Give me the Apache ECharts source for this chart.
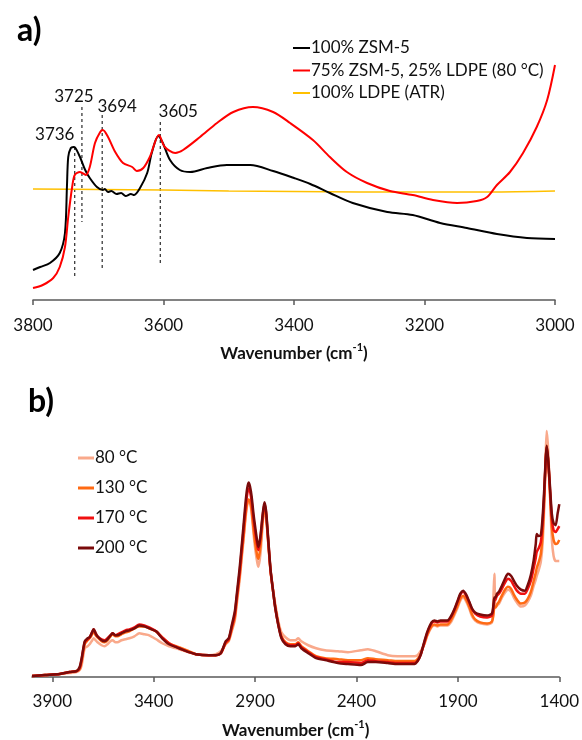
<!DOCTYPE html>
<html>
<head>
<meta charset="utf-8">
<script src="https://cdn.jsdelivr.net/npm/echarts@6/dist/echarts.min.js"></script>
<style>html,body{margin:0;padding:0;background:#fff;}#c{width:582px;height:740px;}</style>
</head>
<body>
<div id="c"></div>
<script>
// ---------- Panel a) ----------
const xTicksA = [3800, 3600, 3400, 3200, 3000];
const wnZsm = [3800,3789,3774,3759,3751,3748,3746,3742,3738,3735,3728,3720,3713,3702,3693,3690,3685,3680,3672,3665,3658,3650,3645,3636,3625,3618,3608,3601,3590,3575,3559,3533,3503,3467,3432,3400,3375,3345,3310,3257,3218,3176,3135,3089,3043,3000];
const absZsm = [30,33,37,47,67,113,143,152,153,152,143,130,122,113,110,111,108,109,106,107,104,106,105,112,127,147,164,157,140,130,128,132,135,135,129,122,116,107,97,88,85,77,72,66,62,61];
const wnMix = [3800,3785,3769,3759,3751,3746,3740,3736,3728,3719,3713,3705,3697,3693,3685,3674,3662,3648,3641,3631,3621,3607,3598,3582,3570,3544,3518,3493,3463,3432,3406,3371,3345,3319,3288,3253,3218,3187,3150,3120,3104,3089,3069,3049,3028,3012,3000];
const absMix = [12,15,22,33,53,83,113,125,128,125,133,157,168,170,163,148,137,133,129,132,143,165,153,147,150,163,177,188,193,188,177,160,143,128,117,109,105,100,97,99,103,115,128,147,173,200,235];
const wnLdpe = [3800,3700,3600,3500,3400,3300,3200,3100,3000];
const absLdpe = [111,110.5,110,109,108.5,108,108,108,109];
const peakWn = [3736, 3725, 3694, 3605];
const peakTop = [153, 193, 185, 178];
const peakBottom = [22, 78, 32, 35];
const peakLabelOffset = [[-20,-2],[-8,0],[15,2],[18,0]];

// ---------- Panel b) ----------
const xTicksB = [1400, 1900, 2400, 2900, 3400, 3900];
const wnB = [4000,3936,3863,3814,3780,3765,3755,3740,3726,3716,3706,3696,3686,3677,3657,3642,3628,3613,3603,3588,3579,3559,3539,3520,3495,3471,3446,3422,3388,3358,3324,3275,3226,3192,3128,3094,3069,3045,3030,3015,3000,2991,2976,2966,2956,2947,2939,2932,2925,2917,2907,2898,2888,2883,2873,2863,2854,2846,2839,2824,2809,2800,2785,2770,2750,2726,2702,2687,2672,2638,2599,2555,2491,2442,2378,2344,2305,2246,2197,2148,2114,2099,2084,2065,2050,2030,2016,2001,1986,1952,1932,1918,1903,1888,1874,1859,1844,1830,1815,1790,1756,1732,1725,1720,1715,1707,1697,1683,1668,1653,1638,1624,1609,1589,1570,1555,1540,1526,1516,1511,1501,1491,1482,1474,1467,1462,1455,1447,1437,1428,1418,1408,1400];
const abs200 = [1,2,3,5,6,10,19,36,39,40,44,48,44,41,37,36,38,42,44,42,42,44,46,47,49,52,51,49,46,39,33,29,25,23,22,22,24,36,39,52,66,82,110,132,155,176,190,196,192,182,163,149,135,131,143,163,176,168,150,109,83,69,52,39,33,31,31,33,29,24,19,17,14,13,12,15,15,14,13,13,13,16,22,36,46,55,57,56,57,57,62,68,76,84,87,83,76,69,65,63,62,64,72,80,80,84,86,92,99,104,102,97,92,88,87,93,103,118,134,144,142,143,162,190,220,233,220,196,165,155,153,165,174];
const abs170 = [1,2,3,5,6,9,18,35,38,40,44,48,44,41,38,37,39,42,44,42,43,45,47,48,50,53,52,50,46,40,34,29,25,23,22,22,24,35,38,50,63,79,106,128,150,170,184,190,187,177,158,144,131,128,141,161,174,166,148,108,83,69,52,40,34,32,32,34,30,25,20,18,15,15,14,17,16,15,14,14,14,16,22,35,45,54,56,55,56,56,61,67,75,83,86,82,75,68,64,61,60,62,70,77,78,82,84,89,95,99,97,92,87,84,84,89,97,110,120,126,130,136,155,185,218,232,218,193,160,148,146,149,152];
const abs130 = [1,2,3,5,6,8,16,33,37,39,42,46,42,40,36,35,37,41,43,41,41,43,45,46,49,51,51,49,46,40,34,30,26,23,22,22,24,34,37,48,60,76,102,123,143,163,175,179,177,168,148,133,121,119,133,157,172,163,146,107,83,70,53,41,35,33,33,35,31,26,21,19,18,17,17,19,18,17,16,16,16,18,23,34,43,51,53,52,53,53,58,64,71,79,82,78,71,63,58,55,54,56,62,70,70,73,76,82,88,91,89,83,78,74,75,79,86,97,105,110,116,124,145,180,218,233,218,190,152,138,134,135,138];
const abs80 = [1,2,3,4,5,7,12,29,31,33,36,39,37,35,32,31,33,36,37,35,35,37,38,39,41,44,43,42,38,34,31,28,25,23,22,23,26,33,36,46,57,72,98,119,140,160,173,178,176,165,143,127,114,111,125,152,170,161,145,108,85,73,56,45,40,37,37,39,36,32,29,27,26,25,27,28,26,22,21,21,21,22,26,33,42,50,52,51,52,52,56,62,69,77,80,76,69,61,57,54,53,55,80,104,70,72,74,80,85,88,86,80,75,71,72,76,82,92,98,102,108,116,135,172,225,248,230,190,140,122,117,117,117];

const FONT = 'Lato';
const toPairs = (xs, ys) => xs.map((x, i) => [x, ys[i]]);

const chart = echarts.init(document.getElementById('c'), null, {renderer: 'canvas'});

const peakSeries = peakWn.map((w, i) => ({
  type: 'line', xAxisIndex: 0, yAxisIndex: 0, symbol: 'circle', symbolSize: 0.1, showSymbol: true, silent: true,
  lineStyle: {color: '#000', width: 1, type: [3, 3]},
  itemStyle: {color: 'rgba(0,0,0,0)'},
  data: [
    {value: [w, peakTop[i]], label: {show: true, formatter: String(w), position: 'top', distance: 2,
      offset: peakLabelOffset[i], fontFamily: FONT, fontSize: 17, color: '#111'}},
    {value: [w, peakBottom[i]]}
  ],
  z: 1
}));

const axisName = {
  rich: {
    a: {fontFamily: FONT, fontSize: 17, fontWeight: 'bold', color: '#111', lineHeight: 20, verticalAlign: 'bottom'},
    s: {fontFamily: FONT, fontSize: 11, fontWeight: 'bold', color: '#111', lineHeight: 20, verticalAlign: 'top', padding: [0, 0, 6, 0]}
  }
};
const plainNum = v => String(v);

const option = {
  animation: false,
  backgroundColor: '#fff',
  title: [
    {text: 'a)', left: 12, top: 10, textStyle: {fontFamily: FONT, fontSize: 32, fontWeight: 'bold', color: '#000'}},
    {text: 'b)', left: 23, top: 381, textStyle: {fontFamily: FONT, fontSize: 32, fontWeight: 'bold', color: '#000'}}
  ],
  legend: [
    {
      orient: 'vertical', left: 288, top: 33, itemWidth: 17, itemHeight: 2, itemGap: 2.5, icon: 'rect',
      data: ['100% ZSM-5', '75% ZSM-5, 25% LDPE (80 °C)', '100% LDPE (ATR)'],
      textStyle: {fontFamily: FONT, fontSize: 17, color: '#111', lineHeight: 20, padding: [0, 0, 0, -4]},
      selectedMode: false
    },
    {
      orient: 'vertical', left: 73, top: 443, itemWidth: 16, itemHeight: 3, itemGap: 10, icon: 'rect',
      data: ['80 °C', '130 °C', '170 °C', '200 °C'],
      textStyle: {fontFamily: FONT, fontSize: 17, color: '#111', lineHeight: 20, padding: [0, 0, 0, -4]},
      selectedMode: false
    }
  ],
  grid: [
    {left: 33, right: 27, top: 60, height: 240},
    {left: 32, right: 19, top: 419, height: 260}
  ],
  xAxis: [
    {
      gridIndex: 0, type: 'value', min: 3000, max: 3800, interval: 200, inverse: true,
      axisLine: {lineStyle: {color: '#595959', width: 1.5}},
      axisTick: {show: true, length: 5, lineStyle: {color: '#595959', width: 1.5}},
      axisLabel: {margin: 17, fontFamily: FONT, fontSize: 17, color: '#111', formatter: plainNum},
      splitLine: {show: false},
      name: '{a|Wavenumber (cm}{s|-1}{a|)}', nameLocation: 'middle', nameGap: 42,
      nameTextStyle: axisName
    },
    {
      gridIndex: 1, type: 'value', min: 1400, max: 4000, inverse: true,
      axisLine: {lineStyle: {color: '#595959', width: 1.5}},
      axisTick: {show: true, length: 5, customValues: xTicksB, lineStyle: {color: '#595959', width: 1.5}},
      axisLabel: {margin: 16, fontFamily: FONT, fontSize: 17, color: '#111', customValues: xTicksB, formatter: plainNum},
      splitLine: {show: false},
      name: '{a|Wavenumber (cm}{s|-1}{a|)}', nameLocation: 'middle', nameGap: 42,
      nameTextStyle: axisName
    }
  ],
  yAxis: [
    {gridIndex: 0, type: 'value', min: 0, max: 240, show: false},
    {gridIndex: 1, type: 'value', min: 0, max: 260, show: false}
  ],
  series: [
    ...peakSeries,
    {name: '100% LDPE (ATR)', type: 'line', xAxisIndex: 0, yAxisIndex: 0, symbol: 'none', smooth: 0.3,
      lineStyle: {color: '#FFC000', width: 1.5}, itemStyle: {color: '#FFC000'}, data: toPairs(wnLdpe, absLdpe), z: 2},
    {name: '100% ZSM-5', type: 'line', xAxisIndex: 0, yAxisIndex: 0, symbol: 'none', smooth: 0.3,
      lineStyle: {color: '#000', width: 2}, itemStyle: {color: '#000'}, data: toPairs(wnZsm, absZsm), z: 3},
    {name: '75% ZSM-5, 25% LDPE (80 °C)', type: 'line', xAxisIndex: 0, yAxisIndex: 0, symbol: 'none', smooth: 0.3,
      lineStyle: {color: '#FF0000', width: 2}, itemStyle: {color: '#FF0000'}, data: toPairs(wnMix, absMix), z: 4},

    {name: '80 °C', type: 'line', xAxisIndex: 1, yAxisIndex: 1, symbol: 'none', smooth: 0.25,
      lineStyle: {color: '#F9A98B', width: 2.5}, itemStyle: {color: '#F9A98B'}, data: toPairs(wnB, abs80), z: 2},
    {name: '130 °C', type: 'line', xAxisIndex: 1, yAxisIndex: 1, symbol: 'none', smooth: 0.25,
      lineStyle: {color: '#FF6A13', width: 2.5}, itemStyle: {color: '#FF6A13'}, data: toPairs(wnB, abs130), z: 3},
    {name: '170 °C', type: 'line', xAxisIndex: 1, yAxisIndex: 1, symbol: 'none', smooth: 0.25,
      lineStyle: {color: '#F01010', width: 2.5}, itemStyle: {color: '#F01010'}, data: toPairs(wnB, abs170), z: 4},
    {name: '200 °C', type: 'line', xAxisIndex: 1, yAxisIndex: 1, symbol: 'none', smooth: 0.25,
      lineStyle: {color: '#7A0A0A', width: 2.5}, itemStyle: {color: '#7A0A0A'}, data: toPairs(wnB, abs200), z: 5}
  ]
};
chart.setOption(option);
</script>
</body>
</html>
